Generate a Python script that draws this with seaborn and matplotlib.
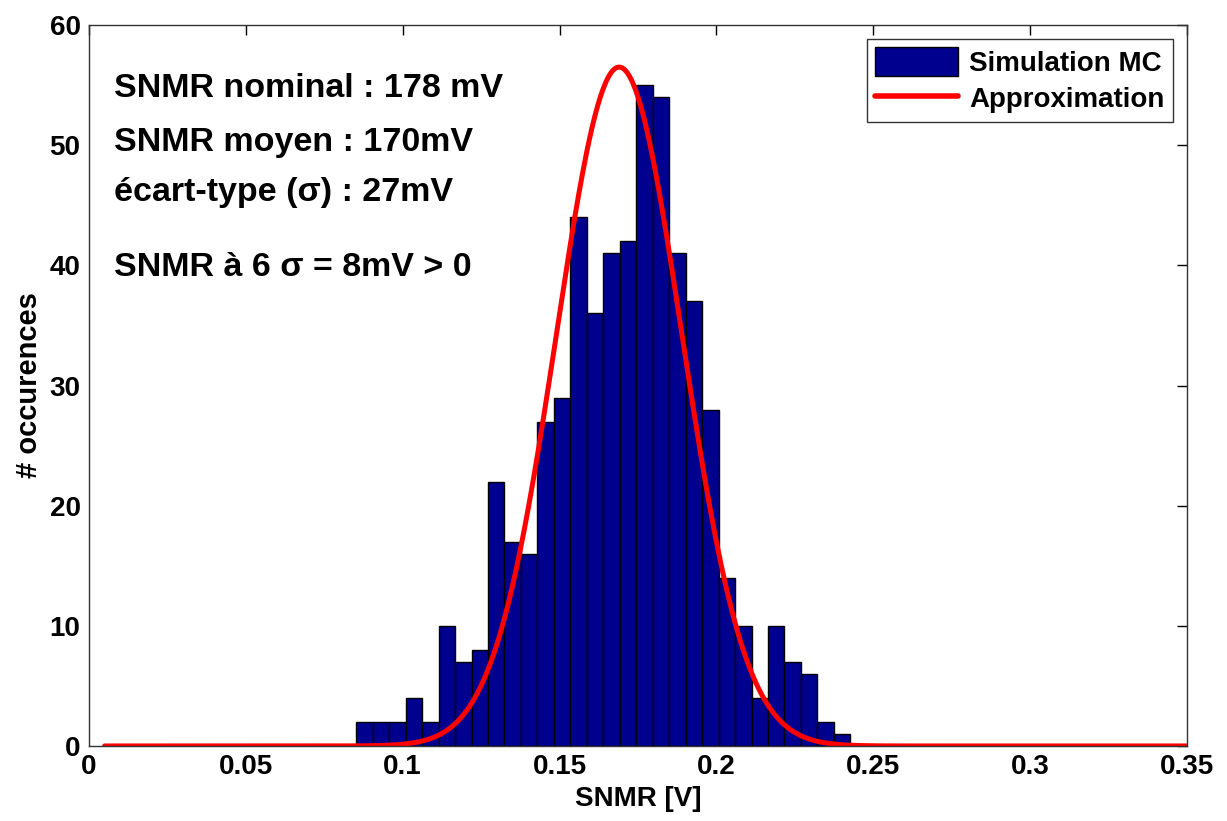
import numpy as np
import pandas as pd
import seaborn as sns
import matplotlib
matplotlib.use("Agg")
import matplotlib.pyplot as plt
from matplotlib.patches import Patch
from matplotlib.lines import Line2D

# ---- data ----
bin_start = 0.0852          # left edge of first bar [V]
bin_width = 0.00525         # bar width [V]
counts = [2, 2, 2, 4, 2, 10, 7, 8, 22, 17, 16, 27, 29, 44, 36,
          41, 42, 55, 54, 41, 37, 28, 14, 10, 4, 10, 7, 6, 2, 1]

# Gaussian approximation parameters
fit_mean = 0.169
fit_sigma = 0.0200
fit_peak = 56.5
fit_xmin, fit_xmax = 0.005, 0.35

annotations = ["SNMR nominal : 178 mV",
               "SNMR moyen : 170mV",
               "écart-type (σ) : 27mV",
               "SNMR à 6 σ = 8mV > 0"]
x_ticks = [0, 0.05, 0.1, 0.15, 0.2, 0.25, 0.3, 0.35]
x_tick_labels = ["0", "0.05", "0.1", "0.15", "0.2", "0.25", "0.3", "0.35"]
y_ticks = [0, 10, 20, 30, 40, 50, 60]

# ---- build frames ----
edges = [bin_start + bin_width * i for i in range(len(counts) + 1)]
centers = [(edges[i] + edges[i + 1]) / 2 for i in range(len(counts))]
hist_df = pd.DataFrame({"snmr": centers, "count": counts})

xc = np.linspace(fit_xmin, fit_xmax, 800)
curve_df = pd.DataFrame({"snmr": xc,
                         "occ": fit_peak * np.exp(-0.5 * ((xc - fit_mean) / fit_sigma) ** 2)})

sns.set_style("white")
plt.rcParams["font.family"] = ["Liberation Sans", "DejaVu Sans"]
plt.rcParams["font.weight"] = "bold"
plt.rcParams["text.color"] = "black"
plt.rcParams["axes.labelcolor"] = "black"

fig = plt.figure(figsize=(12.27, 8.21), dpi=100)
ax = fig.add_axes([0.0725, 0.0914, 0.8949, 0.8781])

bar_color = "#00008F"
sns.histplot(data=hist_df, x="snmr", weights="count", bins=edges, ax=ax,
             color=bar_color, alpha=1.0, edgecolor="black", linewidth=1.0)
sns.lineplot(data=curve_df, x="snmr", y="occ", ax=ax, color="#FF0000",
             linewidth=3.6)

ax.set_xlim(0, 0.35)
ax.set_ylim(0, 60)
ax.set_xticks(x_ticks)
ax.set_xticklabels(x_tick_labels)
ax.set_yticks(y_ticks)
ax.tick_params(axis="both", direction="in", length=7, width=1, top=True, right=True,
               labelsize=20, colors="black")
ax.tick_params(axis="x", pad=6)
ax.tick_params(axis="y", pad=6)
for lab in ax.get_xticklabels() + ax.get_yticklabels():
    lab.set_fontweight("bold")
for s in ax.spines.values():
    s.set_color("#333333")
    s.set_linewidth(1.0)

ax.set_xlabel("SNMR [V]", fontsize=20, fontweight="bold", labelpad=4, color="black")
ax.set_ylabel("# occurences", fontsize=21, fontweight="bold", labelpad=5, color="black")

ys = [54.7, 50.25, 46.1, 39.8]
for t, y in zip(annotations, ys):
    ax.text(0.008, y, t, fontsize=24.5, fontweight="bold", va="center", ha="left",
            color="black")

handles = [Patch(facecolor=bar_color, edgecolor="black", linewidth=1.0),
           Line2D([0], [0], color="#FF0000", linewidth=4)]
leg = ax.legend(handles, ["Simulation MC", "Approximation"], loc="upper right",
                prop={"size": 20, "weight": "bold"}, frameon=True, fancybox=False,
                edgecolor="black", borderaxespad=0.5, handlelength=3.0,
                handleheight=1.2, labelspacing=0.25, borderpad=0.3, handletextpad=0.4)
leg.get_frame().set_linewidth(1.0)
for txt in leg.get_texts():
    txt.set_color("black")

fig.savefig("out.png", dpi=100, facecolor="white")
